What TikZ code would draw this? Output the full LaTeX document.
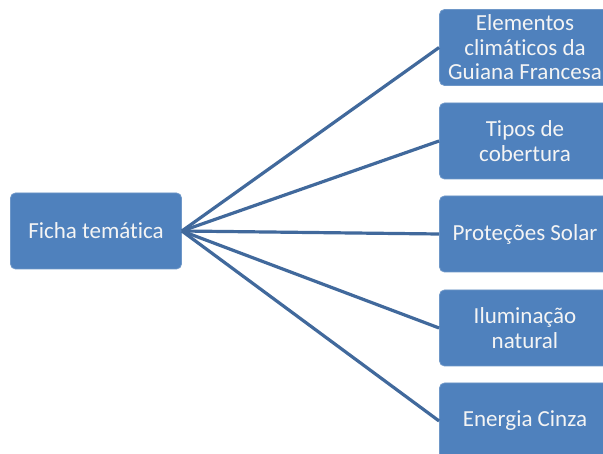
\documentclass[tikz,border=0pt]{standalone}
\usepackage{fontspec}
\setmainfont{Carlito}[Ligatures=NoCommon]
\definecolor{boxfill}{HTML}{4F81BD}
\definecolor{boxline}{HTML}{6E97C8}
\definecolor{conn}{HTML}{41699C}
\definecolor{txt}{HTML}{F4F4F4}
\tikzset{
  topic/.style={draw=boxline, line width=0.8pt, fill=boxfill, rounded corners=5pt,
    minimum width=171pt, minimum height=76pt, inner sep=0pt, align=center,
    text=txt, font=\fontsize{23}{24.5}\selectfont},
  link/.style={draw=conn, line width=3.2pt}
}
\begin{document}
\begin{tikzpicture}[x=1pt,y=-1pt]
\useasboundingbox (0,0) rectangle (603,454);
\clip (0,0) rectangle (603,454);
\fill[white] (0,0) rectangle (603,454);
\node[topic] (L) at (96,231) {Ficha temática};
\node[topic] (R1) at (525,47.5) {Elementos\\climáticos da\\Guiana Francesa};
\node[topic] (R2) at (525,141) {Tipos de\\cobertura};
\node[topic] (R3) at (525,234) {Proteções Solar};
\node[topic] (R4) at (525,328) {Iluminação\\natural};
\node[topic] (R5) at (525,421) {Energia Cinza};
\foreach \r in {R1,R2,R3,R4,R5}
  \draw[link] (L.east) -- (\r.west);
\end{tikzpicture}
\end{document}
